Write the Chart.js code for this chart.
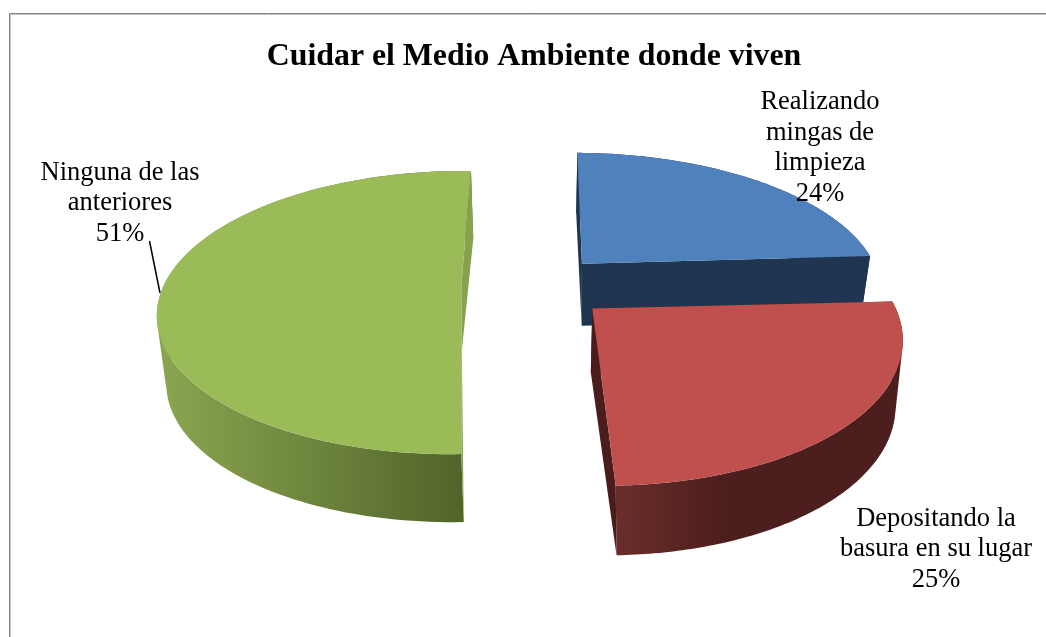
<!DOCTYPE html>
<html>
<head>
<meta charset="utf-8">
<style>html,body{margin:0;padding:0;background:#fff}canvas{display:block}</style>
<script src="https://cdn.jsdelivr.net/npm/chart.js@4"></script>
</head>
<body>
<canvas id="c" width="1046" height="637"></canvas>
<script>
const categories = ["Realizando mingas de limpieza", "Depositando la basura en su lugar", "Ninguna de las anteriores"];
const values = [24, 25, 51];
const sliceColors = ["#4f81bd", "#c0504d", "#9bbb59"];
const labelLines = [
  ["Realizando", "mingas de", "limpieza", "24%"],
  ["Depositando la", "basura en su lugar", "25%"],
  ["Ninguna de las", "anteriores", "51%"]
];
const labelAnchors = [[820, 102], [936, 519], [120, 173]];
const labelSteps = [30.7, 30.5, 30.5];
const cutColors = ["#1f3550", "#4a1d1c", "#86a24e"];
const wallStops = [
  [["#1f3550", 0], ["#1f3550", 1]],
  [["#6a2e2b", 0], ["#4c1e1d", 0.38], ["#4c1e1d", 1]],
  [["#8ba651", 0], ["#4f6228", 1]]
];
// Projection of the pie plane: perspective view of a disc of radius 1
const XV = 535, EXPLODE = 0.225;
const planeBack = { P: 0.192, top: { A: 301, B: 136.5, Y0: 284.5 }, bot: { A: 292.5, B: 140, Y0: 348 } };
const planeSide = { P: 0.1,   top: { A: 301, B: 140, Y0: 297.4 },   bot: { A: 294, B: 140, Y0: 365.4 } };
// per-slice fit of the projected shape: plane, rotation (deg), radius factors, screen shifts,
// apex shift on top face and on base
const sliceFit = [
  { pl: planeBack, rot: 0.6, rx: 1,     ry: 1.02, dx: 2,   bdx: 0, bdy: 0, apex: [0, 1],   base: [1, 0] },
  { pl: planeBack, rot: 2,   rx: 0.975, ry: 1,    dx: 5,   bdx: 3, bdy: 1, apex: [0, 3],   base: [-3, 2] },
  { pl: planeSide, rot: 1.6, rx: 0.99,  ry: 1,    dx: -10, bdx: 1, bdy: 0, apex: [4, -13], base: [2, -16] }
];
function project(P, q, x, y, dx, dy) {
  const w = 1 - P * y;
  return [XV + dx + q.A * x / w, q.Y0 + dy + q.B * y / w];
}

const pie3d = {
  id: "pie3d",
  beforeDraw(chart) {
    const g = chart.ctx;
    g.save();
    g.lineWidth = 1;
    g.strokeStyle = "#c4c4c4";
    g.beginPath(); g.moveTo(10.5, 637); g.lineTo(10.5, 14.5); g.lineTo(1046, 14.5); g.stroke();
    g.strokeStyle = "#808080";
    g.beginPath(); g.moveTo(9.5, 637); g.lineTo(9.5, 13.5); g.lineTo(1046, 13.5); g.stroke();
    g.restore();
  },
  beforeDatasetDraw(chart, args) {
    const g = chart.ctx;
    const arcs = args.meta.data;
    const order = [0, 2, 1];
    order.forEach(i => {
      const a = arcs[i], fit = sliceFit[i], P = fit.pl.P;
      const rot = fit.rot * Math.PI / 180;
      const t0 = a.startAngle + Math.PI / 2 + rot, t1 = a.endAngle + Math.PI / 2 + rot;
      const mid = (a.startAngle + a.endAngle) / 2 + Math.PI / 2;
      const cx = EXPLODE * Math.sin(mid), cy = -EXPLODE * Math.cos(mid);
      const N = 120, rim = [];
      for (let k = 0; k <= N; k++) {
        const t = t0 + (t1 - t0) * k / N;
        rim.push([cx + fit.rx * Math.sin(t), cy - fit.ry * Math.cos(t)]);
      }
      const addPoly = pts => {
        pts.forEach((p, n) => n ? g.lineTo(p[0], p[1]) : g.moveTo(p[0], p[1]));
        g.closePath();
      };
      const poly = pts => { g.beginPath(); addPoly(pts); };
      const area = q => q.reduce((s, p, n) => {
        const r = q[(n + 1) % q.length];
        return s + p[0] * r[1] - r[0] * p[1];
      }, 0);
      const topRim = rim.map(p => project(P, fit.pl.top, p[0], p[1], fit.dx, 0));
      const botRim = rim.map(p => project(P, fit.pl.bot, p[0], p[1], fit.dx + fit.bdx, fit.bdy));
      const xs = topRim.concat(botRim).map(p => p[0]);
      const grad = g.createLinearGradient(Math.min(...xs), 0, Math.max(...xs), 0);
      wallStops[i].forEach(s => grad.addColorStop(s[1], s[0]));
      g.fillStyle = grad;
      g.beginPath();
      for (let k = 0; k < N; k++) {
        const q = [topRim[k], topRim[k + 1], botRim[k + 1], botRim[k]];
        addPoly(area(q) < 0 ? q.reverse() : q);
      }
      g.fill();
      const at = project(P, fit.pl.top, cx, cy, fit.dx, 0);
      const ab = project(P, fit.pl.bot, cx, cy, fit.dx + fit.bdx, fit.bdy);
      const apexT = [at[0] + fit.apex[0], at[1] + fit.apex[1]];
      const apexB = [ab[0] + fit.base[0], ab[1] + fit.base[1]];
      g.fillStyle = cutColors[i];
      poly([apexT, topRim[0], botRim[0], apexB]); g.fill();
      poly([apexT, topRim[N], botRim[N], apexB]); g.fill();
      poly([apexT].concat(topRim));
      g.fillStyle = a.options.backgroundColor; g.fill();
    });
    return false;
  },
  afterDatasetsDraw(chart) {
    const g = chart.ctx;
    g.save();
    g.strokeStyle = "#000"; g.lineWidth = 1.5;
    g.beginPath(); g.moveTo(149.5, 241); g.lineTo(160, 293); g.stroke();
    g.fillStyle = "#000";
    g.font = '26.5px "Liberation Serif"';
    g.textAlign = "center"; g.textBaseline = "middle";
    labelLines.forEach((ls, i) => ls.forEach((s, n) =>
      g.fillText(s, labelAnchors[i][0], labelAnchors[i][1] + n * labelSteps[i])));
    g.restore();
  }
};

new Chart(document.getElementById("c"), {
  type: "pie",
  data: { labels: categories, datasets: [{ data: values, backgroundColor: sliceColors, borderWidth: 0 }] },
  options: {
    responsive: false, animation: false,
    layout: { padding: { top: 38, left: 22 } },
    plugins: {
      legend: { display: false },
      tooltip: { enabled: false },
      title: { display: true, text: "Cuidar el Medio Ambiente donde viven", color: "#000",
        font: { family: '"Liberation Serif"', size: 31.8, weight: "bold" }, padding: 0 }
    }
  },
  plugins: [pie3d]
});
</script>
</body>
</html>
